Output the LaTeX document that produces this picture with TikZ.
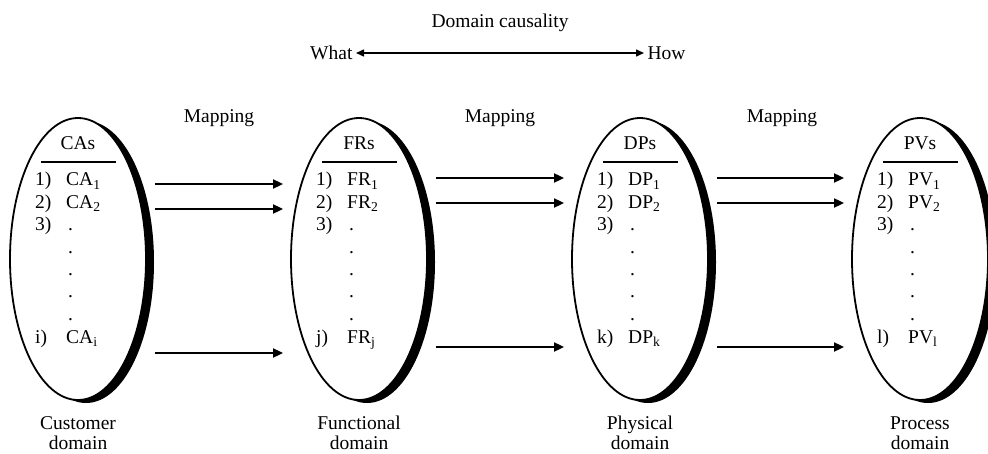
\documentclass[tikz,border=0pt]{standalone}
\usepackage{fontspec}
\setmainfont{Liberation Serif}
\usepackage{tikz}
\usetikzlibrary{shapes.geometric, arrows.meta, shadows, calc}
\tikzstyle{domainbox} = [
    ellipse, draw, fill=white,
    line width=1.8pt,
    minimum width=136pt,
    minimum height=282pt,
    inner sep=0pt,
    drop shadow={shadow xshift=8pt, shadow yshift=-3pt, fill=black, opacity=1},
]
\tikzstyle{item} = [anchor=base west, inner sep=0pt]
\tikzstyle{dlabel} = [align=center, font=\fontsize{19.5}{20}\selectfont]
\tikzstyle{arrow} = [-{Triangle[length=10pt,width=9pt]}, line width=1.8pt]
\tikzstyle{twoway} = [{Triangle[length=8pt,width=7pt]}-{Triangle[length=8pt,width=7pt]}, line width=1.5pt]

\begin{document}
\begin{tikzpicture}[x=1pt, y=-1pt, font=\fontsize{19.5}{22.4}\selectfont]
    \useasboundingbox (0,0) rectangle (988,454);

    % causality
    \node (causal) at (500,23) {Domain causality};
    \node[anchor=east] (what) at (356,53) {What};
    \node[anchor=west] (how) at (644,53) {How};
    \draw [twoway] (what) -- (how);

    % domains
    \foreach \c/\x/\h/\s/\l/\t in {ca/78/CAs/CA/i/Customer, fr/359/FRs/FR/j/Functional,
                                   dp/640/DPs/DP/k/Physical, pv/920/PVs/PV/l/Process} {
        \node[domainbox] (\c) at (\x,259) {};
        \node (\c h) at (\x,143) {\h};
        \draw [line width=2.4pt] ($(\c h)+(-37,19)$) -- ($(\c h)+(38,19)$);
        \node[item] (\c n1) at (\x-43,186) {1)};
        \node[item] (\c 1) at (\x-12,186) {\s\textsubscript{1}};
        \node[item] (\c n2) at (\x-43,208.4) {2)};
        \node[item] (\c 2) at (\x-12,208.4) {\s\textsubscript{2}};
        \node[item] (\c n3) at (\x-43,230.8) {3)};
        \foreach \k in {0,...,4}
            \node[item] (\c d\k) at (\x-10,230.8+22.4*\k) {.};
        \node[item] (\c nl) at (\x-43,343) {\l)};
        \node[item] (\c l) at (\x-12,343) {\s\textsubscript{\l}};
        \node[dlabel] (\c t) at (\x,433) {\t\\domain};
    }

    % mapping
    \foreach \x [count=\i] in {219,500,782}
        \node (map\i) at (\x,118) {Mapping};

    % arrows
    \foreach \a/\b/\ya/\yb/\yc in {ca/fr/184/209/353, fr/dp/178/203/347, dp/pv/178/203/347} {
        \foreach \yy in {\ya,\yb,\yc}
            \draw [arrow] ([xshift=8pt]\a.east |- 0,\yy) -- ([xshift=-7pt]\b.west |- 0,\yy);
    }
\end{tikzpicture}
\end{document}
